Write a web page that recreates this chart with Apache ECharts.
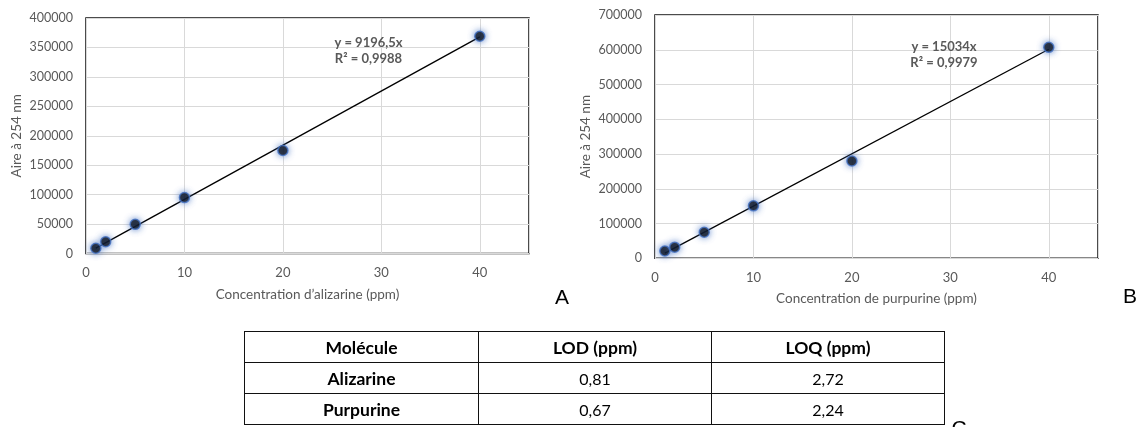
<!DOCTYPE html>
<html>
<head>
<meta charset="utf-8">
<script src="https://cdn.jsdelivr.net/npm/echarts@6/dist/echarts.min.js"></script>
<style>
  html, body { margin: 0; padding: 0; background: #fff; }
  #wrap { position: relative; width: 1136px; height: 427px; overflow: hidden; }
  #chart { position: absolute; left: 0; top: 0; width: 1136px; height: 427px; }
  #tbl { position: absolute; left: 244px; top: 331px; border-collapse: collapse; font-family: Lato, "Noto Sans", sans-serif; font-size: 16px; color: #000; }
  #tbl td { border: 1.3px solid #111; height: 30px; padding: 0; text-align: center; vertical-align: middle; }
</style>
</head>
<body>
<div id="wrap">
  <div id="chart"></div>
  <table id="tbl"></table>
</div>
<script>
// ---- data ----
const concentrations = [1, 2, 5, 10, 20, 40];
const aireAlizarine = [9000, 20000, 49500, 95000, 175000, 369000];
const airePurpurine = [21000, 32000, 75000, 151000, 280000, 607000];
const slopes = [9196.5, 15034];
const equationLabels = ['y = 9196,5x', 'y = 15034x'];
const r2Labels = ['R² = 0,9988', 'R² = 0,9979'];
const xTitles = ['Concentration d\u2019alizarine (ppm)', 'Concentration de purpurine (ppm)'];
const yTitle = 'Aire à 254 nm';
const panelLetters = ['A', 'B', 'C'];
const tableHeader = ['Molécule', 'LOD (ppm)', 'LOQ (ppm)'];
const molecules = ['Alizarine', 'Purpurine'];
const lodValues = ['0,81', '0,67'];
const loqValues = ['2,72', '2,24'];
const colWidths = [233, 232, 232];

// ---- table ----
const tbl = document.getElementById('tbl');
function addRow(cells, boldMask) {
  const tr = document.createElement('tr');
  cells.forEach((c, i) => {
    const td = document.createElement('td');
    td.textContent = c;
    td.style.width = colWidths[i] + 'px';
    td.style.fontWeight = boldMask[i] ? 'bold' : 'normal';
    td.style.fontSize = boldMask[i] ? '17.5px' : '16px';
    tr.appendChild(td);
  });
  tbl.appendChild(tr);
}
addRow(tableHeader, [true, true, true]);
molecules.forEach((m, i) => addRow([m, lodValues[i], loqValues[i]], [true, false, false]));

// ---- chart ----
const FONT = 'Lato, "Noto Sans", sans-serif';
const GRAY = '#595959';
const chart = echarts.init(document.getElementById('chart'), null, { renderer: 'canvas' });

function pts(ys) { return concentrations.map((x, i) => [x, ys[i]]); }
function trend(slope) {
  const xmin = Math.min(...concentrations), xmax = Math.max(...concentrations);
  return [[xmin, slope * xmin], [xmax, slope * xmax]];
}
function xAxisCfg(idx, title, gap) {
  return {
    gridIndex: idx, type: 'value', min: 0, max: 45, interval: 10,
    name: title, nameLocation: 'middle', nameGap: gap,
    nameTextStyle: { color: GRAY, fontFamily: FONT, fontSize: 13.5 },
    axisLine: { show: false }, axisTick: { show: false },
    axisLabel: { color: GRAY, fontFamily: FONT, fontSize: 13, margin: 13, showMaxLabel: false, formatter: v => String(v) },
    splitLine: { show: true, lineStyle: { color: '#d9d9d9', width: 1 } }
  };
}
function yAxisCfg(idx, max, interval, gap) {
  return {
    gridIndex: idx, type: 'value', min: 0, max: max, interval: interval,
    name: yTitle, nameLocation: 'middle', nameGap: gap,
    nameTextStyle: { color: GRAY, fontFamily: FONT, fontSize: 13.5 },
    axisLine: { show: false }, axisTick: { show: false },
    axisLabel: { color: GRAY, fontFamily: FONT, fontSize: 12.5, margin: 13, formatter: v => String(v) },
    splitLine: { show: true, lineStyle: { color: '#d9d9d9', width: 1 } }
  };
}
const markerStyle = {
  color: '#000', borderColor: '#4472C4', borderWidth: 1.5,
  shadowBlur: 6, shadowColor: 'rgba(68,114,196,0.9)'
};
function scatter(idx, ys) {
  return {
    type: 'scatter', xAxisIndex: idx, yAxisIndex: idx, data: pts(ys),
    symbolSize: 10, itemStyle: markerStyle, z: 5, silent: true
  };
}
function line(idx, slope) {
  return {
    type: 'line', xAxisIndex: idx, yAxisIndex: idx, data: trend(slope),
    symbol: 'none', lineStyle: { color: '#000', width: 1.3 }, z: 4, silent: true
  };
}
function txt(text, x, y, opts) {
  return {
    type: 'text', x: x, y: y, silent: true, z: 10,
    style: Object.assign({ text: text, fill: GRAY, font: 'bold 13px ' + FONT, textAlign: 'center', textVerticalAlign: 'middle' }, opts || {})
  };
}

chart.setOption({
  animation: false,
  backgroundColor: '#fff',
  grid: [
    { left: 86, top: 18, width: 443, height: 235.5, show: true, borderColor: '#111', borderWidth: 1.5, backgroundColor: 'transparent' },
    { left: 655, top: 15, width: 443, height: 243.3, show: true, borderColor: '#111', borderWidth: 1.5, backgroundColor: 'transparent' }
  ],
  xAxis: [xAxisCfg(0, xTitles[0], 34), xAxisCfg(1, xTitles[1], 33)],
  yAxis: [yAxisCfg(0, 400000, 50000, 62), yAxisCfg(1, 700000, 100000, 62)],
  series: [
    line(0, slopes[0]), scatter(0, aireAlizarine),
    line(1, slopes[1]), scatter(1, airePurpurine)
  ],
  graphic: [
    txt(equationLabels[0], 368.5, 42.5),
    txt(r2Labels[0], 368.5, 58.5),
    txt(equationLabels[1], 944, 46.5),
    txt(r2Labels[1], 944, 63),
    txt(panelLetters[0], 562, 298, { fill: '#000', font: '21px "Liberation Sans", sans-serif' }),
    txt(panelLetters[1], 1130, 297, { fill: '#000', font: '21px "Liberation Sans", sans-serif' }),
    txt(panelLetters[2], 959, 429, { fill: '#000', font: '21px "Liberation Sans", sans-serif' })
  ]
});
</script>
</body>
</html>
